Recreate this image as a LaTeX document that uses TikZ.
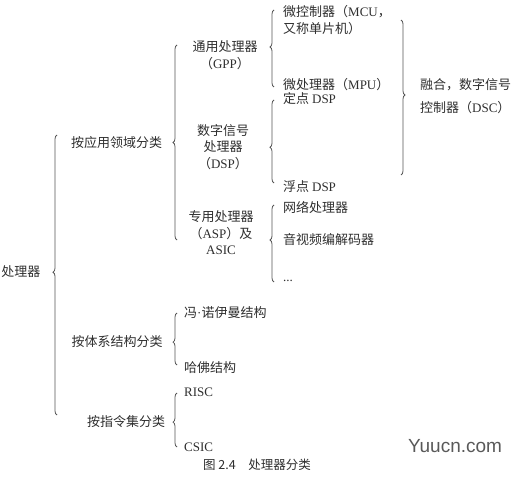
\documentclass[tikz,border=0pt]{standalone}
\usepackage{fontspec}
\setmainfont{Noto Sans CJK SC}
\newfontfamily\lat{Liberation Serif}
\newfontfamily\wm{Liberation Sans}
\usetikzlibrary{decorations.pathreplacing}
\definecolor{ink}{HTML}{2E2E2E}
\definecolor{brc}{HTML}{555555}
\tikzset{
 txt/.style={inner sep=0pt, text=ink, font=\fontsize{13}{16.5}\selectfont, align=center},
 leaf/.style={txt, anchor=west, align=left},
 brc/.style={draw=brc, line width=0.8pt, decorate, decoration={brace, amplitude=4pt, aspect=#1}},
 brc/.default=0.5,
}
\begin{document}
\begin{tikzpicture}[x=1pt,y=1pt]
\useasboundingbox (0,0) rectangle (517,477);
% root
\node[txt] (root) at (21,205) {处理器};
\draw[brc=0.51] (57,62) -- (57,342);
% level 1
\node[txt] (app) at (116.5,334) {按应用领域分类};
\node[txt] (arch) at (117,135) {按体系结构分类};
\node[txt] (isa) at (126,55) {按指令集分类};
% app brace
\draw[brc=0.5] (177,237) -- (177,432);
\node[txt] (gpp) at (225,422) {通用处理器\\（{\lat GPP}）};
\node[txt] (dsp) at (223,330) {数字信号\\处理器\\（{\lat DSP}）};
\node[txt] (asp) at (221,244) {专用处理器\\（{\lat ASP}）及\\{\lat ASIC}};
% gpp brace
\draw[brc=0.52] (274,390) -- (274,467);
\node[leaf] (mcu) at (283,457) {微控制器（{\lat MCU}，\\又称单片机）};
\node[leaf] (mpu) at (283,392) {微处理器（{\lat MPU}）};
% dsp brace
\draw[brc=0.43] (274,294) -- (274,377);
\node[leaf] (fix) at (283,378) {定点 {\lat DSP}};
\node[leaf] (flt) at (283,290) {浮点 {\lat DSP}};
% asp brace
\draw[brc=0.545] (274,195) -- (274,272);
\node[leaf] (net) at (283,270) {网络处理器};
\node[leaf] (av) at (283,237) {音视频编解码器};
\node[leaf] (etc) at (283,196) {\lat ...};
% right closing brace
\draw[brc=0.484] (401,457) -- (401,302);
\node[leaf, font=\fontsize{13}{23}\selectfont] (dsc) at (420,380.5) {融合，数字信号\\控制器（{\lat DSC}）};
% arch brace
\draw[brc=0.44] (177,112) -- (177,164);
\node[leaf] (von) at (184,164) {冯{\lat ·}诺伊曼结构};
\node[leaf] (harv) at (184,109) {哈佛结构};
% isa brace
\draw[brc=0.46] (177,30) -- (177,84);
\node[leaf] (risc) at (184,85) {\lat RISC};
\node[leaf] (cisc) at (184,30) {\lat CSIC};
% caption
\node[txt, font=\fontsize{12.5}{15}\selectfont] (cap) at (257,12) {图 2.4\quad 处理器分类};
% watermark
\node[inner sep=0pt, text=black!65, font=\wm\fontsize{19}{22}\selectfont] (mark) at (455,31) {Yuucn.com};
\end{tikzpicture}
\end{document}
